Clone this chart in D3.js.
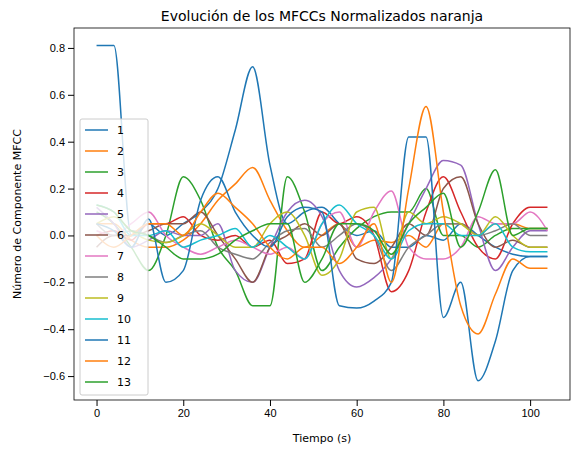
<!DOCTYPE html>
<html><head><meta charset="utf-8">
<script src="https://cdn.jsdelivr.net/npm/d3@7"></script>
<style>body{margin:0;background:#fff;font-family:"DejaVu Sans",sans-serif}</style>
</head><body><div id="container"></div>
<script>
const width = 579, height = 455;
const margin = {left: 74, right: 9, top: 28, bottom: 55};

const title = "Evolución de los MFCCs Normalizados naranja";
const xLabel = "Tiempo (s)";
const yLabel = "Número de Componente MFCC";
const names = ["1","2","3","4","5","6","7","8","9","10","11","12","13"];
const colors = ["#1f77b4","#ff7f0e","#2ca02c","#d62728","#9467bd","#8c564b","#e377c2","#7f7f7f","#bcbd22","#17becf","#1f77b4","#ff7f0e","#2ca02c"];
const times = d3.range(0, 105, 4);   // 0,4,...,104
const xTicks = [0, 20, 40, 60, 80, 100];
const yTicks = [-0.6, -0.4, -0.2, 0.0, 0.2, 0.4, 0.6, 0.8];

const s1  = [0.81,0.81,0.0,0.05,0.0,0.05,0.10,0.20,0.45,0.72,0.30,0.05,0.10,0.12,0.05,0.00,0.02,-0.05,-0.05,0.00,-0.02,0.05,0.00,-0.05,-0.08,-0.09,-0.09];
const s2  = [0.05,0.05,-0.02,-0.05,-0.05,-0.02,0.05,0.15,0.22,0.29,0.15,0.02,-0.05,0.0,0.05,-0.05,-0.02,-0.03,0.0,-0.05,0.05,0.05,0.0,0.05,0.05,0.03,0.03];
const s3  = [0.10,0.05,-0.05,-0.15,0.0,0.25,0.15,-0.05,-0.15,-0.30,-0.30,0.25,0.10,-0.15,-0.05,0.03,0.08,0.10,0.10,0.20,0.0,0.0,-0.05,0.0,0.03,0.03,0.03];
const s4  = [0.0,0.02,-0.02,0.05,0.05,0.08,0.0,-0.02,0.0,-0.05,-0.02,-0.12,-0.10,0.10,0.05,0.08,0.0,-0.24,-0.15,0.10,0.25,0.10,-0.05,-0.10,0.05,0.12,0.12];
const s5  = [0.12,0.05,-0.05,-0.02,0.02,0.0,0.0,0.05,-0.15,-0.20,-0.05,0.10,0.15,0.08,-0.15,-0.22,-0.18,-0.10,0.05,0.20,0.32,0.30,0.05,-0.15,-0.05,0.02,0.02];
const s6  = [-0.05,0.0,0.0,0.02,0.05,0.05,0.10,0.0,-0.10,-0.20,-0.05,0.0,0.05,0.0,0.05,-0.10,-0.12,-0.05,0.05,0.0,0.20,0.25,0.05,-0.05,-0.02,-0.05,-0.05];
const s7  = [0.02,0.0,0.05,0.10,0.0,-0.05,-0.08,-0.05,-0.02,-0.05,-0.08,-0.05,-0.10,0.05,0.10,-0.05,0.10,0.19,-0.05,-0.10,-0.10,-0.05,0.08,0.05,0.05,0.10,0.02];
const s8  = [0.05,0.0,0.02,0.0,-0.03,0.0,0.02,-0.05,-0.08,-0.10,-0.03,0.02,0.03,-0.05,0.0,0.05,0.0,-0.15,-0.05,0.0,0.05,0.05,0.0,0.02,0.05,0.0,0.0];
const s9  = [0.05,0.08,0.02,-0.02,-0.03,0.0,0.05,0.0,-0.05,-0.05,0.05,0.10,0.0,-0.17,-0.10,0.10,0.12,-0.10,0.10,0.05,0.08,0.05,0.0,0.08,0.0,-0.05,-0.05];
const s10 = [0.13,0.10,0.0,0.0,0.02,-0.05,-0.02,0.0,0.03,-0.05,0.0,-0.05,-0.10,0.05,0.13,0.05,0.0,-0.10,0.02,0.05,0.05,0.0,0.0,0.05,-0.05,-0.07,-0.07];
const s11 = [0.05,0.02,-0.05,0.07,-0.20,-0.15,0.15,0.25,0.10,0.0,-0.05,0.08,0.12,0.10,-0.30,-0.31,-0.28,-0.20,0.42,0.42,-0.35,-0.20,-0.62,-0.45,-0.15,-0.09,-0.09];
const s12 = [0.0,-0.05,0.0,0.05,0.05,0.0,0.10,0.18,0.12,0.05,-0.05,-0.10,-0.05,-0.05,-0.12,-0.05,0.05,-0.20,0.20,0.55,0.10,-0.30,-0.42,-0.25,-0.10,-0.14,-0.14];
const s13 = [0.13,0.10,0.02,0.0,-0.05,-0.10,-0.10,-0.08,-0.02,0.02,0.05,0.05,-0.20,-0.10,0.05,0.05,0.02,-0.08,0.05,0.12,0.18,-0.05,0.10,0.28,0.0,0.03,0.03];
const series = [s1,s2,s3,s4,s5,s6,s7,s8,s9,s10,s11,s12,s13];

const svg = d3.select("#container").append("svg")
    .attr("width", width).attr("height", height);

const x = d3.scaleLinear().domain([-5.2, 109.2]).range([margin.left, width - margin.right]);
const y = d3.scaleLinear().domain([-0.702, 0.885]).range([height - margin.bottom, margin.top]);

svg.append("g")
    .attr("transform", "translate(0," + (height - margin.bottom) + ")")
    .call(d3.axisBottom(x).tickValues(xTicks).tickSizeOuter(0).tickFormat(d3.format("d")))
    .call(g => g.select(".domain").remove());
svg.append("g")
    .attr("transform", "translate(" + margin.left + ",0)")
    .call(d3.axisLeft(y).tickValues(yTicks).tickSizeOuter(0).tickFormat(d3.format(".1f")))
    .call(g => g.select(".domain").remove());
svg.selectAll(".tick text").attr("font-size", 11).attr("fill", "#000");

const line = d3.line()
    .x((d, i) => x(times[i]))
    .y(d => y(d))
    .curve(d3.curveMonotoneX);

svg.selectAll("path.series").data(series).enter()
    .append("path").attr("class", "series")
    .attr("d", d => line(d))
    .attr("fill", "none")
    .attr("stroke", (d, i) => colors[i])
    .attr("stroke-width", 1.5);

svg.append("rect")
    .attr("x", margin.left).attr("y", margin.top)
    .attr("width", width - margin.left - margin.right)
    .attr("height", height - margin.top - margin.bottom)
    .attr("fill", "none").attr("stroke", "#000").attr("stroke-width", 0.8);

svg.append("text").attr("x", (margin.left + width - margin.right) / 2).attr("y", 21)
    .attr("text-anchor", "middle").attr("font-size", 14).text(title);
svg.append("text").attr("x", (margin.left + width - margin.right) / 2).attr("y", 442)
    .attr("text-anchor", "middle").attr("font-size", 11).text(xLabel);
svg.append("text").attr("transform", "translate(21," + ((margin.top + height - margin.bottom) / 2) + ") rotate(-90)")
    .attr("text-anchor", "middle").attr("font-size", 11).text(yLabel);

// legend
const lg = svg.append("g").attr("transform", "translate(80,119)");
lg.append("rect").attr("width", 68).attr("height", 276).attr("rx", 2)
    .attr("fill", "#fff").attr("fill-opacity", 0.8).attr("stroke", "#ccc");
names.forEach((n, i) => {
    const yy = 11 + i * 21;
    lg.append("line").attr("x1", 5).attr("x2", 28).attr("y1", yy).attr("y2", yy)
        .attr("stroke", colors[i]).attr("stroke-width", 1.5);
    lg.append("text").attr("x", 37).attr("y", yy + 4).attr("font-size", 11).text(n);
});
</script>
</body></html>
